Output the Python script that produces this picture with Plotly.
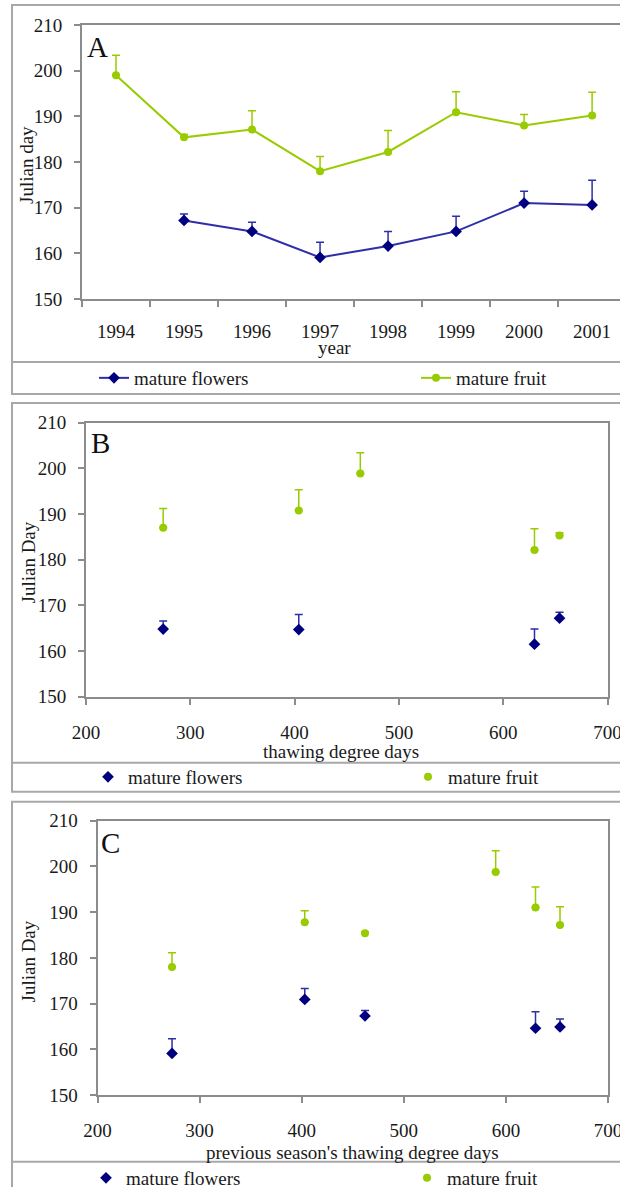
import plotly.graph_objects as go

# ---------------- data ----------------
years = ["1994", "1995", "1996", "1997", "1998", "1999", "2000", "2001"]
a_flowers = [None, 167.2, 164.8, 159.1, 161.6, 164.8, 171.0, 170.6]
a_flowers_err = [None, 1.4, 2.0, 3.3, 3.2, 3.3, 2.6, 5.4]
a_fruit = [199.0, 185.4, 187.1, 178.0, 182.2, 190.9, 188.0, 190.2]
a_fruit_err = [4.4, 0.6, 4.1, 3.2, 4.7, 4.5, 2.4, 5.1]

b_tdd = [274, 404, 463, 630, 654]
b_flowers = [164.8, 164.7, None, 161.5, 167.2]
b_flowers_err = [1.8, 3.3, None, 3.3, 1.3]
b_fruit = [187.0, 190.8, 198.9, 182.1, 185.3]
b_fruit_err = [4.2, 4.5, 4.5, 4.7, 0.6]

c_prev_tdd = [273, 403, 462, 590, 629, 653]
c_flowers = [159.1, 170.9, 167.3, None, 164.6, 164.9]
c_flowers_err = [3.2, 2.4, 1.2, None, 3.6, 1.7]
c_fruit = [178.0, 187.8, 185.4, 198.8, 191.0, 187.2]
c_fruit_err = [3.1, 2.5, 0.3, 4.6, 4.5, 4.0]

y_ticks = [150, 160, 170, 180, 190, 200, 210]
tdd_ticks = [200, 300, 400, 500, 600, 700]

# ---------------- style ----------------
W, H = 620, 1187
FONT = "Liberation Serif"
NAVY = "#00007f"
BLUE_LINE = "#2e2ea8"
GREEN = "#99cc00"
AX = "#8c8c8c"
TXT = "#1a1a1a"


def px(x):
    return x / W


def py(y):
    return 1 - y / H


def zeros(arr):
    return [0 if v is not None else None for v in arr]


fig = go.Figure()

# Panel A
fig.add_trace(go.Scatter(
    x=years, y=a_flowers, mode="lines+markers", name="mature flowers",
    line=dict(color=BLUE_LINE, width=2),
    marker=dict(symbol="diamond", size=9, color=NAVY),
    error_y=dict(type="data", symmetric=False, array=a_flowers_err,
                 arrayminus=zeros(a_flowers_err), color=BLUE_LINE, thickness=1.5, width=4),
    xaxis="x", yaxis="y", legend="legend", legendwidth=277))
fig.add_trace(go.Scatter(
    x=years, y=a_fruit, mode="lines+markers", name="mature fruit",
    line=dict(color=GREEN, width=2),
    marker=dict(symbol="circle", size=8, color=GREEN),
    error_y=dict(type="data", symmetric=False, array=a_fruit_err,
                 arrayminus=zeros(a_fruit_err), color=GREEN, thickness=1.5, width=4),
    xaxis="x", yaxis="y", legend="legend"))

# Panel B
fig.add_trace(go.Scatter(
    x=b_tdd, y=b_flowers, mode="markers", name="mature flowers",
    marker=dict(symbol="diamond", size=9, color=NAVY),
    error_y=dict(type="data", symmetric=False, array=b_flowers_err,
                 arrayminus=zeros(b_flowers_err), color=BLUE_LINE, thickness=1.5, width=4),
    xaxis="x2", yaxis="y2", legend="legend2", legendwidth=275))
fig.add_trace(go.Scatter(
    x=b_tdd, y=b_fruit, mode="markers", name="mature fruit",
    marker=dict(symbol="circle", size=8, color=GREEN),
    error_y=dict(type="data", symmetric=False, array=b_fruit_err,
                 arrayminus=zeros(b_fruit_err), color=GREEN, thickness=1.5, width=4),
    xaxis="x2", yaxis="y2", legend="legend2"))

# Panel C
fig.add_trace(go.Scatter(
    x=c_prev_tdd, y=c_flowers, mode="markers", name="mature flowers",
    marker=dict(symbol="diamond", size=9, color=NAVY),
    error_y=dict(type="data", symmetric=False, array=c_flowers_err,
                 arrayminus=zeros(c_flowers_err), color=BLUE_LINE, thickness=1.5, width=4),
    xaxis="x3", yaxis="y3", legend="legend3", legendwidth=276))
fig.add_trace(go.Scatter(
    x=c_prev_tdd, y=c_fruit, mode="markers", name="mature fruit",
    marker=dict(symbol="circle", size=8, color=GREEN),
    error_y=dict(type="data", symmetric=False, array=c_fruit_err,
                 arrayminus=zeros(c_fruit_err), color=GREEN, thickness=1.5, width=4),
    xaxis="x3", yaxis="y3", legend="legend3"))

tickfont = dict(family=FONT, size=19, color=TXT)
common = dict(showline=True, linecolor=AX, linewidth=2, ticks="outside", ticklen=6,
              tickcolor=AX, tickwidth=1.5, showgrid=False, zeroline=False,
              tickfont=tickfont)
yax = dict(common, range=[150, 210], tickvals=y_ticks, ticklabelstandoff=8, fixedrange=True)

legend_common = dict(orientation="h", xanchor="left", yanchor="middle",
                     bgcolor="rgba(0,0,0,0)", borderwidth=0,
                     font=dict(family=FONT, size=19, color=TXT),
                     itemclick=False, itemdoubleclick=False)

fig.update_layout(
    width=W, height=H, margin=dict(l=0, r=0, t=0, b=0, autoexpand=False),
    paper_bgcolor="white", plot_bgcolor="white",
    font=dict(family=FONT, size=19, color=TXT),
    xaxis=dict(common, domain=[px(82), 1], type="category", categoryorder="array",
               categoryarray=years, range=[-0.5, 7.41], tickson="boundaries",
               mirror=True, ticklabelstandoff=14, anchor="y"),
    yaxis=dict(yax, domain=[py(299), py(25)], anchor="x"),
    xaxis2=dict(common, domain=[px(86), px(607.5)], range=[200, 700], tickvals=tdd_ticks,
                mirror=True, ticklabelstandoff=11, ticklabeloverflow="allow", anchor="y2"),
    yaxis2=dict(yax, domain=[py(696.7), py(422.7)], mirror=True, anchor="x2"),
    xaxis3=dict(common, domain=[px(97.5), px(608)], range=[200, 700], tickvals=tdd_ticks,
                mirror=True, ticklabelstandoff=11, ticklabeloverflow="allow", anchor="y3"),
    yaxis3=dict(yax, domain=[py(1095), py(820.7)], mirror=True, anchor="x3"),
    legend=dict(legend_common, x=px(94), y=py(378)),
    legend2=dict(legend_common, x=px(88), y=py(777)),
    legend3=dict(legend_common, x=px(86), y=py(1178)),
)

BOX = "#a8a8a8"
shapes = []
# outer boxes and legend separators
for (top, bottom, sep) in [(5, 394, 362), (403, 791.7, 762.7), (801.7, 1195, 1161.7)]:
    shapes.append(dict(type="rect", xref="paper", yref="paper", x0=px(12), x1=px(630),
                       y0=py(bottom), y1=py(top), line=dict(color=BOX, width=2)))
    shapes.append(dict(type="line", xref="paper", yref="paper", x0=px(12), x1=px(630),
                       y0=py(sep), y1=py(sep), line=dict(color=BOX, width=2)))
fig.update_layout(shapes=shapes)

ann = []


def text(x, y, s, size=19, angle=0):
    ann.append(dict(xref="paper", yref="paper", x=px(x), y=py(y), text=s, showarrow=False,
                    xanchor="center", yanchor="middle", textangle=angle,
                    font=dict(family=FONT, size=size, color=TXT)))


# axis titles
text(27, 165, "Julian day", angle=-90)
text(334, 347, "year")
text(27.5, 563, "Julian Day", angle=-90)
text(341, 751, "thawing degree days")
text(27.5, 962, "Julian Day", angle=-90)
text(352, 1152, "previous season's thawing degree days")
# panel letters
for (x, y, s) in [(98, 47, "A"), (100, 443, "B"), (110, 843, "C")]:
    ann.append(dict(xref="paper", yref="paper", x=px(x), y=py(y), text=s, showarrow=False,
                    xanchor="center", yanchor="middle",
                    font=dict(family=FONT, size=29, color="#111111")))
fig.update_layout(annotations=ann)

fig.write_html("out.html")
